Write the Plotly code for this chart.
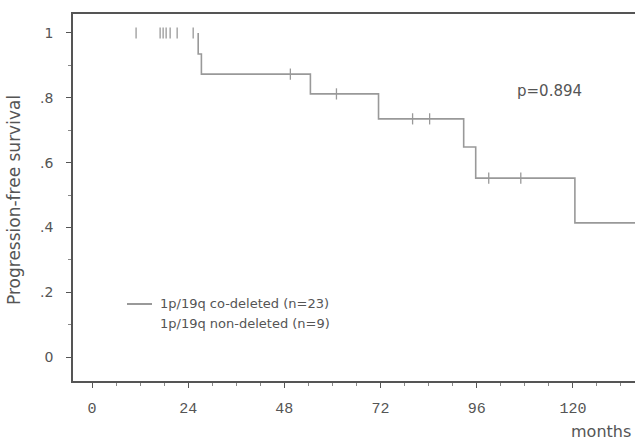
import plotly.graph_objects as go

# ---- data ----
step_months = [26.5, 26.5, 27.3, 54.5, 71.5, 92.75, 95.75, 120.5, 136.0]
step_surv = [1.0, 0.935, 0.873, 0.812, 0.735, 0.648, 0.552, 0.414, 0.414]
censor_months = [11, 17, 17.75, 18.5, 19.5, 21.25, 25.25, 49.5, 61, 80, 84.25, 99, 107]
x_ticks = [0, 24, 48, 72, 96, 120]
y_ticks = [0, 0.2, 0.4, 0.6, 0.8, 1]
y_ticklabels = ["0", ".2", ".4", ".6", ".8", "1"]
legend_labels = ["1p/19q co-deleted (n=23)", "1p/19q non-deleted (n=9)"]
p_text = "p=0.894"


def surv_at(t):
    # value of the hv step curve at time t
    val = 1.0
    for i in range(1, len(step_months)):
        if t >= step_months[i - 1]:
            val = step_surv[i - 1]
    return val


censor_surv = [surv_at(t) if t >= step_months[0] else 1.0 for t in censor_months]

line_col = "#999999"
axis_col = "#555555"
text_col = "#555555"

fig = go.Figure()
fig.add_trace(go.Scatter(
    x=step_months, y=step_surv, mode="lines", line_shape="hv",
    line=dict(color=line_col, width=1.6), showlegend=False, hoverinfo="skip"))
fig.add_trace(go.Scatter(
    x=censor_months, y=censor_surv, mode="markers",
    marker=dict(symbol="line-ns-open", size=8, color=line_col, line=dict(color=line_col, width=1.3)),
    showlegend=False, hoverinfo="skip"))

fig.update_layout(
    width=635, height=442,
    margin=dict(l=73, r=0, t=14, b=61),
    paper_bgcolor="white", plot_bgcolor="white",
    font=dict(family="DejaVu Sans", color=text_col),
    xaxis=dict(
        range=[-4.74, 135.5], tickvals=x_ticks, ticktext=[str(v) for v in x_ticks],
        showgrid=False, zeroline=False, showline=True, linecolor=axis_col, linewidth=1.5,
        mirror=True, ticks="outside", ticklen=5, tickcolor=axis_col,
        minor=dict(dtick=6, tick0=0, ticks="outside", ticklen=3, tickcolor="#888"),
        tickfont=dict(family="Liberation Mono", size=15, color=text_col),
        ticklabelstandoff=7),
    yaxis=dict(
        range=[-0.074, 1.0586], tickvals=y_ticks, ticktext=y_ticklabels,
        showgrid=False, zeroline=False, showline=True, linecolor=axis_col, linewidth=1.5,
        ticks="outside", ticklen=5, tickcolor=axis_col,
        minor=dict(dtick=0.1, tick0=0, ticks="outside", ticklen=3, tickcolor="#888"),
        tickfont=dict(family="DejaVu Sans", size=14, color=text_col),
        ticklabelstandoff=10),
)

W, H = 562.0, 367.0
def px(xp):
    return (xp - 73) / W
def py(yp):
    return (381 - yp) / H

def note(x, y, text, size, xanchor="left", angle=0):
    fig.add_annotation(x=px(x), y=py(y), xref="paper", yref="paper", text=text,
                       xanchor=xanchor, yanchor="middle", textangle=angle,
                       showarrow=False, font=dict(size=size, color=text_col))

note(14, 200, "Progression-free survival", 17, xanchor="center", angle=-90)
note(601, 431, "months", 16, xanchor="center")
note(515, 91, p_text, 15)
note(158, 303, legend_labels[0], 13)
note(158, 323, legend_labels[1], 13)
fig.add_shape(type="line", xref="paper", yref="paper", x0=px(127), x1=px(152), y0=py(304), y1=py(304),
              line=dict(color="#555", width=1.2))

fig.write_html("out.html")
